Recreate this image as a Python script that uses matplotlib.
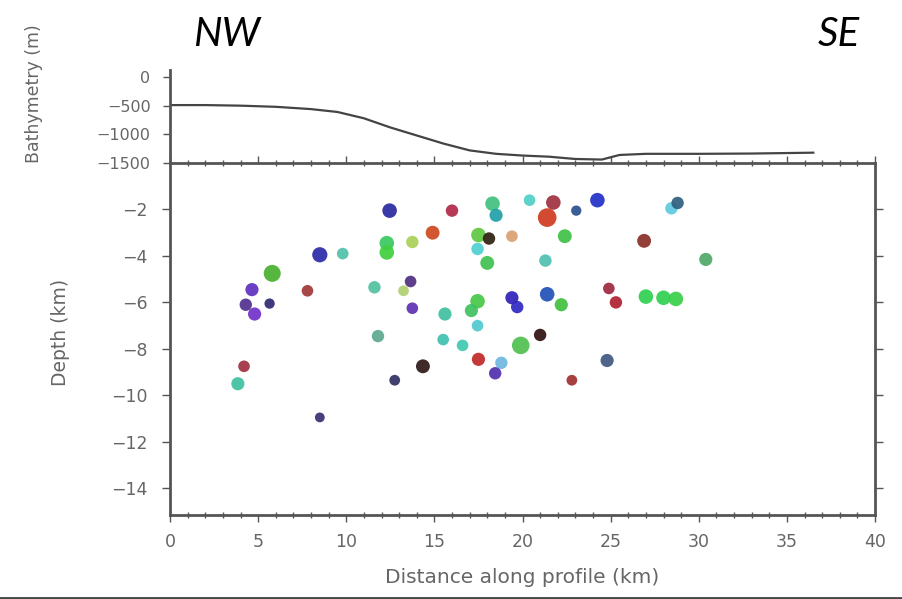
import matplotlib
matplotlib.use("Agg")
import matplotlib.pyplot as plt
from matplotlib.lines import Line2D
from matplotlib.ticker import MultipleLocator

# Bathymetry profile
bathy_dist = [0, 2, 4, 6, 8, 9.5, 11, 12.5, 14, 15.5, 17, 18.5, 20, 21.5, 23, 24.5, 25.5, 27, 30, 33, 36.5]
bathy_depth = [-490, -490, -500, -520, -560, -610, -720, -880, -1020, -1160, -1280, -1340, -1370,
               -1390, -1430, -1440, -1360, -1340, -1340, -1335, -1320]

# Hypocentres
ev_dist = [12.46, 16.0, 18.3, 18.5, 20.4, 21.75, 21.4, 23.05, 24.25, 28.45, 28.8,
           14.9, 13.75, 12.3, 12.3, 17.5, 18.1, 19.4, 22.4, 26.9,
           8.5, 9.8, 17.45, 18.0, 21.3, 30.4,
           5.8, 4.65, 4.3, 4.8, 5.65, 7.8, 11.6, 13.65, 13.25, 13.75, 15.6,
           17.45, 17.1, 17.45, 19.4, 19.7, 21.4, 22.2, 24.9, 25.3, 27.0, 28.0, 28.7,
           11.8, 15.5, 16.6, 17.5, 18.8, 18.45, 19.9, 21.0, 24.8, 22.8, 14.35, 12.75,
           4.2, 3.85, 8.5]
ev_depth = [-2.05, -2.05, -1.75, -2.25, -1.6, -1.7, -2.35, -2.05, -1.6, -1.95, -1.72,
            -3.0, -3.4, -3.45, -3.85, -3.1, -3.25, -3.15, -3.15, -3.35,
            -3.95, -3.9, -3.7, -4.3, -4.2, -4.15,
            -4.75, -5.45, -6.1, -6.5, -6.05, -5.5, -5.35, -5.1, -5.5, -6.25, -6.5,
            -5.95, -6.35, -7.0, -5.8, -6.2, -5.65, -6.1, -5.4, -6.0, -5.75, -5.8, -5.85,
            -7.45, -7.6, -7.85, -8.45, -8.6, -9.05, -7.85, -7.4, -8.5, -9.35, -8.75, -9.35,
            -8.75, -9.5, -10.95]
ev_size = [110, 80, 110, 90, 70, 110, 180, 55, 110, 80, 80,
           100, 80, 110, 110, 110, 80, 70, 100, 100,
           120, 70, 80, 100, 80, 90,
           150, 90, 80, 90, 55, 70, 80, 70, 60, 70, 90,
           110, 90, 70, 90, 80, 110, 90, 70, 80, 110, 110, 110,
           80, 70, 70, 90, 80, 80, 160, 80, 90, 60, 100, 60,
           70, 90, 50]
ev_color = ['#2828a0', '#b02848', '#40c080', '#20a0a8', '#50d0c8', '#a03040', '#d03a20', '#2a5090',
            '#2030c8', '#60c8e0', '#306080',
            '#d04820', '#a8d058', '#38c860', '#40d040', '#60c840', '#302010', '#d8a070', '#40c048',
            '#8a3028',
            '#2a2aa8', '#50c0a8', '#50d0d0', '#40c050', '#50c0b0', '#50a868',
            '#48b030', '#6030c0', '#503090', '#7030c8', '#302870', '#a03838', '#50c0a0', '#503080',
            '#b0d070', '#6030b0', '#40c0a0',
            '#48c848', '#40c060', '#50c8d0', '#3020b8', '#3028c0', '#2050b8', '#40c040', '#a02840',
            '#b02030', '#30d050', '#30d050', '#38d048',
            '#60a890', '#40c0b0', '#40c8b0', '#c02828', '#70b8e0', '#5030b0', '#50c050', '#301010',
            '#405880', '#a03030', '#301818', '#303060',
            '#a03040', '#40c0a0', '#383070']

x_ticks = [0, 5, 10, 15, 20, 25, 30, 35, 40]
depth_ticks = [-2, -4, -6, -8, -10, -12, -14]
bathy_ticks = [0, -500, -1000, -1500]

W, H = 902, 599
fig = plt.figure(figsize=(W / 100, H / 100), dpi=100)
fig.patch.set_facecolor('white')

FONT = 'DejaVu Sans'
spine_col = '#555555'
lab_col = '#666666'

L = 170 / W
Wd = (875 - 170) / W
ax = fig.add_axes([L, 1 - 515 / H, Wd, (515 - 163) / H])
axb = fig.add_axes([L, 1 - 163 / H, Wd, (163 - 70) / H], sharex=ax)

# main scatter
ax.scatter(ev_dist, ev_depth, s=ev_size, c=ev_color, edgecolors='none', alpha=0.92, zorder=3)
ax.set_xlim(0, 40)
ax.set_ylim(-15.15, 0)
ax.set_xticks(x_ticks)
ax.set_yticks(depth_ticks)
ax.xaxis.set_minor_locator(MultipleLocator(1))
for s in ax.spines.values():
    s.set_color(spine_col)
    s.set_linewidth(2)
ax.tick_params(axis='x', which='major', direction='out', length=5, width=1, colors=spine_col,
               labelcolor=lab_col, labelsize=12.5, pad=8, top=True)
ax.tick_params(axis='x', which='minor', direction='inout', length=5, width=1, colors=spine_col,
               top=True, bottom=True)
ax.tick_params(axis='y', which='major', direction='out', length=6, width=1, colors=spine_col,
               labelcolor=lab_col, labelsize=12.5, pad=10, left=True, right=True)
for lab in ax.get_xticklabels() + ax.get_yticklabels():
    lab.set_fontfamily(FONT)
ax.set_xlabel('Distance along profile (km)', fontsize=14.5, color=lab_col, fontfamily=FONT)
ax.xaxis.set_label_coords(0.5, -0.15)
ax.set_ylabel('Depth (km)', fontsize=13.5, color=lab_col, fontfamily=FONT)
ax.yaxis.set_label_coords(-0.142, 0.52)

# bathymetry panel
axb.plot(bathy_dist, bathy_depth, color='#444444', lw=1.6)
axb.set_ylim(-1500, 122)
axb.set_yticks(bathy_ticks)
axb.set_yticklabels(['0', '\u2212500', '\u22121000', '\u22121500'])
for side in ['top', 'right', 'bottom']:
    axb.spines[side].set_visible(False)
axb.spines['left'].set_color(spine_col)
axb.spines['left'].set_linewidth(2)
axb.tick_params(axis='x', which='both', bottom=False, labelbottom=False)
axb.tick_params(axis='y', direction='out', length=5, width=1, colors=spine_col,
                labelcolor=lab_col, labelsize=11.5, pad=9)
for lab in axb.get_yticklabels():
    lab.set_fontfamily(FONT)
axb.set_ylabel('Bathymetry (m)', fontsize=12.5, color=lab_col, fontfamily=FONT)
axb.yaxis.set_label_coords(-0.18, 0.75)
axb.patch.set_alpha(0)

# direction labels
fig.text(227 / W, 1 - 35 / H, 'NW', fontsize=29, style='italic', fontfamily='Lato',
         ha='center', va='center', color='black')
fig.text(839 / W, 1 - 35 / H, 'SE', fontsize=29, style='italic', fontfamily='Lato',
         ha='center', va='center', color='black')

# bottom border line
fig.add_artist(Line2D([0, 1], [1.5 / H, 1.5 / H], color='#444444', lw=2, transform=fig.transFigure))

fig.savefig('out.png', dpi=100)
